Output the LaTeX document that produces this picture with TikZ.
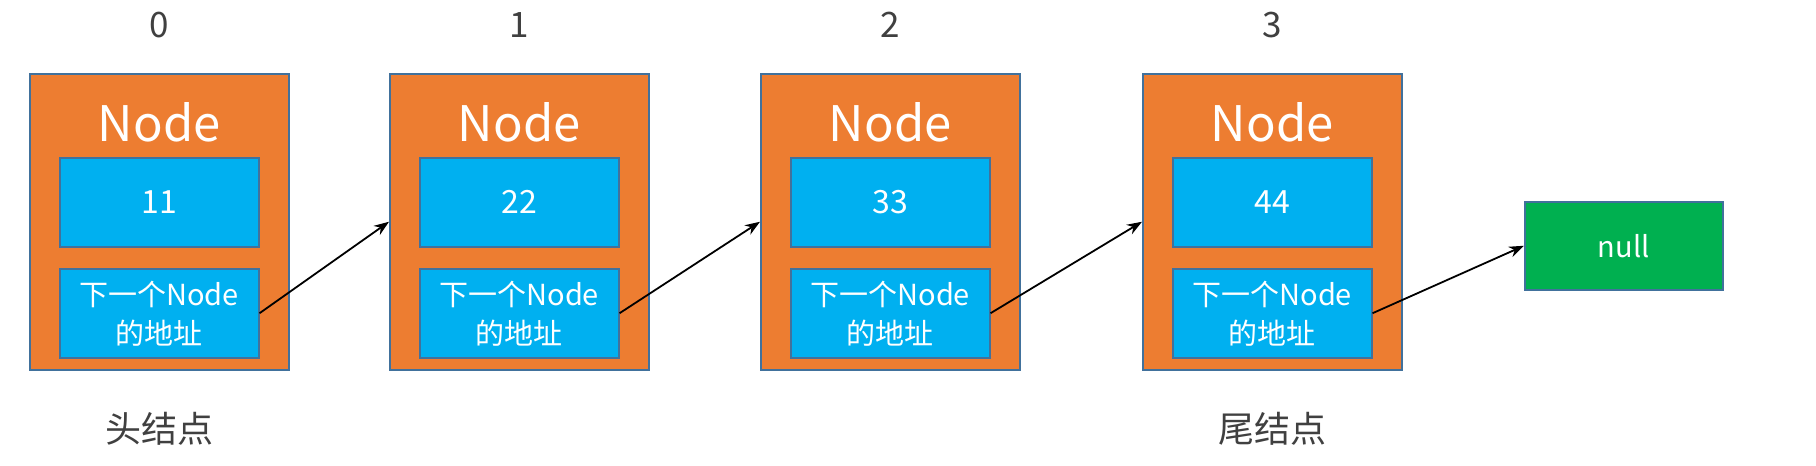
\documentclass[tikz,border=0pt]{standalone}
\usepackage{fontspec}
\setmainfont{Noto Sans CJK SC}
\usetikzlibrary{arrows.meta}
\definecolor{orangeC}{HTML}{ED7D31}
\definecolor{blueC}{HTML}{00B0F0}
\definecolor{greenC}{HTML}{00B050}
\definecolor{edgeC}{HTML}{41719C}
\definecolor{labelC}{HTML}{404040}
\tikzset{
  outerbox/.style={draw=edgeC, line width=1.5pt, fill=orangeC, minimum width=259pt, minimum height=296pt, inner sep=0pt, anchor=north west},
  innerbox/.style={draw=edgeC, line width=1.5pt, fill=blueC, minimum width=199pt, minimum height=89pt, inner sep=0pt, text=white, align=center, anchor=north west},
  nullbox/.style={draw=edgeC, line width=1.5pt, fill=greenC, minimum width=198pt, minimum height=88pt, inner sep=0pt, text=white, anchor=north west, font=\fontsize{29}{34}\selectfont},
  titletext/.style={text=white, font=\fontsize{49}{56}\selectfont, inner sep=0pt},
  valtext/.style={font=\fontsize{32}{38}\selectfont},
  addrtext/.style={font=\fontsize{29}{39}\selectfont},
  idxtext/.style={text=labelC, font=\fontsize{35}{42}\selectfont, inner sep=0pt},
  captext/.style={text=labelC, font=\fontsize{36}{44}\selectfont, inner sep=0pt},
  link/.style={draw=black, line width=1.8pt, -{Stealth[length=15pt,width=11pt]}}
}
\begin{document}
\begin{tikzpicture}[x=1pt,y=-1pt]
\useasboundingbox[fill=white] (0,0) rectangle (1816,466);
% outer boxes
\node[outerbox] (b0) at (29,73) {};
\node[outerbox] (b1) at (389,73) {};
\node[outerbox] (b2) at (760,73) {};
\node[outerbox] (b3) at (1142,73) {};
% titles and indices
\foreach \i in {0,1,2,3}{
  \node[titletext] (t\i) at ([yshift=-49pt]b\i.north) {Node};
  \node[idxtext] (n\i) at ([yshift=48pt]b\i.north) {\i};
}
% value boxes
\node[innerbox, valtext] (v0) at ([xshift=30pt,yshift=-84pt]b0.north west) {11};
\node[innerbox, valtext] (v1) at ([xshift=30pt,yshift=-84pt]b1.north west) {22};
\node[innerbox, valtext] (v2) at ([xshift=30pt,yshift=-84pt]b2.north west) {33};
\node[innerbox, valtext] (v3) at ([xshift=30pt,yshift=-84pt]b3.north west) {44};
% address boxes
\foreach \i in {0,1,2,3}{
  \node[innerbox, addrtext] (a\i) at ([xshift=30pt,yshift=-195pt]b\i.north west) {下一个Node\\的地址};
}
% null box
\node[nullbox] (nul) at (1524,201) {null};
% captions
\node[captext] (h) at ([yshift=-58pt]b0.south) {头结点};
\node[captext] (t) at ([yshift=-58pt]b3.south) {尾结点};
% links
\draw[link] (a0.east) -- (b1.west);
\draw[link] (a1.east) -- (b2.west);
\draw[link] (a2.east) -- (b3.west);
\draw[link] (a3.east) -- (nul.west);
\end{tikzpicture}
\end{document}
